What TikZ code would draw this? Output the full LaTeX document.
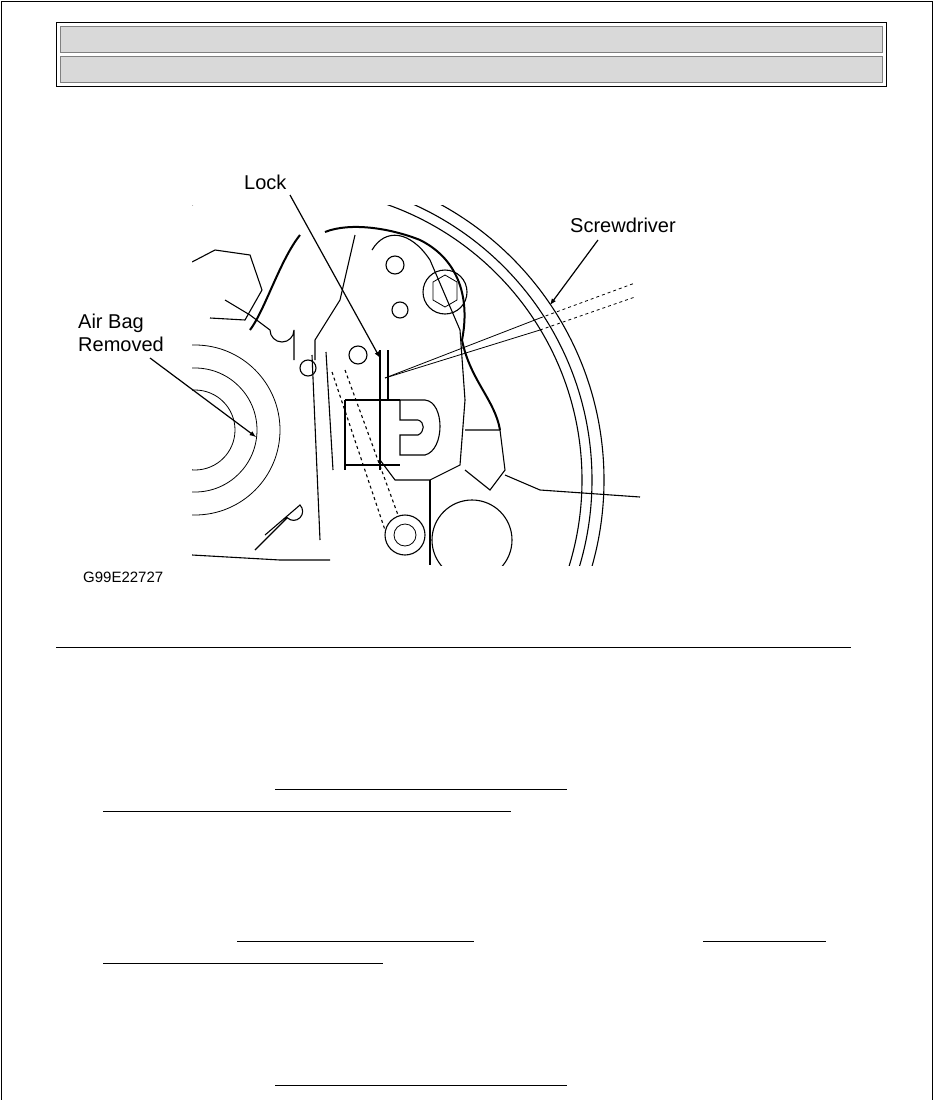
\documentclass[tikz,border=0pt]{standalone}
\usepackage{fontspec}
\setmainfont{Liberation Sans}
\begin{document}
\begin{tikzpicture}[x=1pt,y=-1pt,
  part/.style={line width=1.1pt},
  thinpart/.style={line width=0.8pt},
  lbl/.style={font=\fontsize{20}{23}\selectfont, anchor=west, inner sep=0pt},
  callout/.style={line width=1.2pt,-latex},
  uline/.style={line width=1pt}]
\useasboundingbox (0,0) rectangle (935,1100);
% page frame
\draw[line width=1pt] (1,1100) -- (1,1) -- (932,1) -- (932,1100);
% header
\draw[line width=1pt] (56,22) rectangle (886,86);
\node[fill=black!15, draw=black!50, minimum width=822pt, minimum height=26pt, inner sep=0pt, anchor=north west] (hb1) at (60,26) {};
\node[fill=black!15, draw=black!50, minimum width=822pt, minimum height=26pt, inner sep=0pt, anchor=north west] (hb2) at (60,56) {};
% drawing
\begin{scope}
\clip (192,205) rectangle (640,565);
\foreach \r in {292,302,314} \draw[part] (290,480) circle (\r);
\foreach \r in {40,62,85} \draw[thinpart] (195,430) circle (\r);
\draw[part] (192,262) -- (215,250) -- (250,255) -- (262,290) -- (245,320) -- (210,318);
\draw[part] (225,300) -- (250,315) -- (270,330) arc (180:0:12) -- (294,360);
% wire
\draw[line width=2pt] (250,330) .. controls (265,310) and (280,260) .. (300,235);
\draw[line width=2pt] (325,232) .. controls (350,222) and (390,228) .. (420,240) .. controls (460,260) and (470,300) .. (462,340) .. controls (470,380) and (495,400) .. (500,430);
% lever body
\draw[part] (355,235) -- (340,300) -- (315,340) -- (315,360);
\draw[part] (372,250) .. controls (385,228) and (410,230) .. (430,260) -- (460,330) -- (465,400) -- (460,465) -- (430,480) -- (395,480) -- (380,460);
\draw[part] (395,265) circle (9);
\draw[part] (400,310) circle (8);
\draw[part] (445,292) circle (22);
\draw[thinpart] (433,282) -- (445,275) -- (457,282) -- (457,300) -- (445,307) -- (433,300) -- cycle;
\draw[part] (358,355) circle (9);
\draw[part] (308,368) circle (8);
% lock clip
\draw[part] (400,400) -- (425,400) .. controls (445,402) and (445,450) .. (425,455) -- (400,455) -- (400,435) -- (418,435) .. controls (425,432) and (425,422) .. (418,420) -- (400,420) -- cycle;
\draw[part] (345,400) -- (400,400); \draw[part] (345,465) -- (400,465);
\draw[part] (345,400) -- (345,470);
\draw[part] (465,430) -- (500,430) -- (505,470) -- (490,490) -- (465,470);
% slots
\draw[part] (312,355) -- (320,540); \draw[part] (326,352) -- (333,470);
\draw[part,dashed] (332,372) -- (385,530); \draw[part,dashed] (345,370) -- (398,515);
\draw[part] (380,350) -- (380,470); \draw[part] (388,350) -- (388,400);
\draw[part] (405,535) circle (20); \draw[thinpart] (405,535) circle (11);
\draw[part] (472,540) circle (40);
\draw[part] (265,535) -- (300,505) arc (-45:135:9) -- (255,550);
\draw[part] (192,555) -- (280,560) -- (330,560);
\draw[part] (430,480) -- (430,565);
\draw[part] (505,475) -- (540,490) -- (640,497);
\end{scope}
% screwdriver
\coordinate (tip) at (385,378);
\coordinate (sd1) at (635,283);
\coordinate (sd2) at (635,297);
\draw[thinpart] (tip) -- (540,318);
\draw[thinpart] (tip) -- (540,330);
\draw[thinpart,dashed] (540,318) -- (sd1);
\draw[thinpart,dashed] (540,330) -- (sd2);
% labels
\node[lbl] (lock) at (244,182) {Lock};
\node[lbl] (screw) at (570,225) {Screwdriver};
\node[lbl, align=left] (airbag) at (78,333) {Air Bag\\Removed};
\node[font=\fontsize{15}{17}\selectfont, anchor=west, inner sep=0pt] (code) at (83,577) {G99E22727};
\coordinate (lockpt) at (380,358);
\coordinate (screwpt) at (550,305);
\coordinate (airpt) at (256,437);
\draw[callout] (290,195) -- (lockpt);
\draw[callout] (598,240) -- (screwpt);
\draw[callout] (150,358) -- (airpt);
% rule and underlines
\draw[line width=1pt] (56,647) -- (851,647);
\draw[uline] (275,789) -- (567,789);
\draw[uline] (103,811) -- (511,811);
\draw[uline] (237,941) -- (474,941);
\draw[uline] (703,941) -- (826,941);
\draw[uline] (103,963) -- (383,963);
\draw[uline] (275,1085) -- (567,1085);
\end{tikzpicture}
\end{document}
